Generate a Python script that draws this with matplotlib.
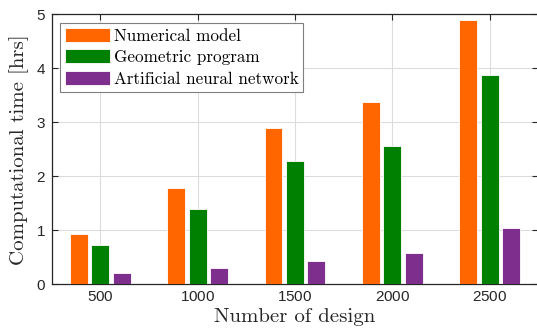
import matplotlib
matplotlib.use("Agg")
import matplotlib.pyplot as plt
import numpy as np

# data
designs = [500, 1000, 1500, 2000, 2500]
numerical = [0.93, 1.79, 2.89, 3.37, 4.88]
geometric = [0.73, 1.39, 2.29, 2.56, 3.87]
ann = [0.20, 0.31, 0.43, 0.57, 1.04]
labels = ['Numerical model', 'Geometric program', 'Artificial neural network']
colors = ['#FF6600', '#008000', '#7E2F8E']

plt.rcParams['axes.formatter.use_mathtext'] = True
serif = {'family': 'cmr10'}

fig = plt.figure(figsize=(5.37, 3.33), dpi=100)
ax = fig.add_axes([51.7/537, 1 - 284.3/333, 486.5/537, 270.3/333])

x = np.array(designs, dtype=float)
off = 110
w = 92
for i, vals in enumerate([numerical, geometric, ann]):
    ax.bar(x + (i - 1) * off, vals, width=w, color=colors[i],
           edgecolor='white', linewidth=0.6, label=labels[i], zorder=3)

ax.set_xlim(250, 2750)
ax.set_ylim(0, 5)
ax.set_xticks(designs)
ax.set_yticks([0, 1, 2, 3, 4, 5])
ax.grid(True, color='#dcdcdc', linewidth=0.8, zorder=0)
ax.set_axisbelow(True)
ax.tick_params(direction='in', top=True, right=True, length=4, width=0.8,
               labelsize=11, colors='#262626', pad=4)
for lab in ax.get_xticklabels() + ax.get_yticklabels():
    lab.set_fontfamily('Liberation Sans')
for s in ax.spines.values():
    s.set_linewidth(0.9)
    s.set_color('#262626')

ax.set_xlabel('Number of design', fontdict=dict(serif, size=15), labelpad=3, color='#262626')
ax.set_ylabel('Computational time [hrs]', fontdict=dict(serif, size=15), labelpad=5, color='#262626')

leg = ax.legend(loc='upper left', prop={'family': 'cmr10', 'size': 12.3},
                handlelength=2.6, handleheight=0.9, handletextpad=0.22,
                labelspacing=0.32, borderpad=0.3, borderaxespad=0.5,
                fancybox=False, framealpha=1, edgecolor='#7f7f7f')
leg.get_frame().set_linewidth(0.8)

fig.savefig('out.png', dpi=100)
